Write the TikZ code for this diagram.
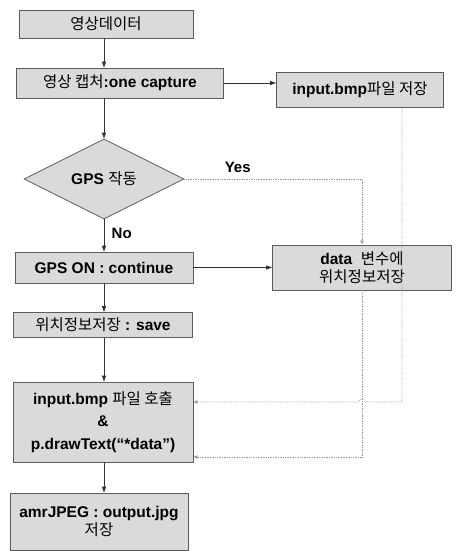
\documentclass[tikz,border=0pt]{standalone}
\usepackage{fontspec}
\setmainfont{Liberation Sans}
\newfontfamily\kr{Noto Sans CJK KR}
\usetikzlibrary{arrows.meta, positioning, shapes.geometric, calc}
\definecolor{BoxGray}{RGB}{218,218,218}
\definecolor{EdgeGray}{RGB}{90,90,90}
\newcommand{\hangul}[1]{{\kr\mdseries #1}}

\begin{document}
\begin{tikzpicture}[
  x=1pt, y=-1pt,
  font=\fontsize{15.5}{20}\selectfont\bfseries,
  box/.style={draw=EdgeGray, line width=0.8pt, fill=BoxGray, align=center, inner sep=1pt},
  decision/.style={diamond, draw=EdgeGray, line width=0.8pt, fill=BoxGray, aspect=2, inner sep=0pt, minimum width=160pt, minimum height=80pt},
  arr/.style={-{Triangle[length=6pt, width=4pt]}, line width=0.8pt, draw=black!80},
  dotarr/.style={-{Latex[length=4pt, width=4pt]}, densely dotted, line width=0.7pt, draw=gray!80},
  lbl/.style={font=\fontsize{15}{16}\selectfont\bfseries}
]
  \useasboundingbox (0,0) rectangle (455,551);

  % left column
  \node[box, minimum width=174pt, minimum height=28pt] (video) at (106,24) {\hangul{영상데이터}};
  \node[box, minimum width=207pt, minimum height=30pt] (capture) at (120,83) {\hangul{영상 캡처}:one capture};
  \node[decision] (gps) at (104,179) {GPS \hangul{작동}};
  \node[box, minimum width=178pt, minimum height=31pt] (gpson) at (104,267.5) {GPS ON : continue};
  \node[box, minimum width=179pt, minimum height=25pt] (save) at (103,325) {\hangul{위치정보저장} : save};
  \node[box, minimum width=180pt, minimum height=80pt, font=\fontsize{15.5}{22.5}\selectfont\bfseries] (call) at (103,422) {input.bmp \hangul{파일 호출}\\\&\\p.drawText(“*data”)};
  \node[box, minimum width=178pt, minimum height=57pt, font=\fontsize{15.5}{18}\selectfont\bfseries] (jpeg) at (99,521.5) {amrJPEG : output.jpg\\\hangul{저장}};

  % right column
  \node[box, minimum width=167pt, minimum height=35pt] (inbmp) at (360,90) {input.bmp\hangul{파일 저장}};
  \node[box, minimum width=179pt, minimum height=45pt, font=\fontsize{15.5}{18}\selectfont\bfseries] (datavar) at (362,267.5) {data\ \ \hangul{변수에}\\\hangul{위치정보저장}};

  \coordinate (bmpbend) at (402,402);
  \coordinate (databend) at (362,457);

  % main flow
  \draw[arr] (video.south -| gps) -- (capture.north -| gps);
  \draw[arr] (capture.south -| gps) -- (gps.north);
  \draw[arr] (gps.south) -- node[lbl, right=4pt, pos=0.45] {No} (gpson.north);
  \draw[arr] (gpson.south) -- (save.north -| gpson);
  \draw[arr] (save.south -| gpson) -- (call.north -| gpson);
  \draw[arr] (call.south -| gpson) -- (jpeg.north -| gpson);

  % side branches
  \draw[arr] (capture.east) -- (capture.east -| inbmp.west);
  \draw[dotarr] (gps.east) -| node[lbl, pos=0.15, above=3pt] {Yes} (datavar.north);
  \draw[arr] (gpson.east) -- (datavar.west);

  % back to the file call
  \draw[dotarr] (inbmp.south -| bmpbend) -- (bmpbend) -- ($(bmpbend)+(-37,0)$)
    arc[start angle=0, end angle=180, radius=3pt] -- (call.east |- bmpbend);
  \draw[dotarr] (datavar.south) -- (databend) -- (call.east |- databend);
\end{tikzpicture}
\end{document}
